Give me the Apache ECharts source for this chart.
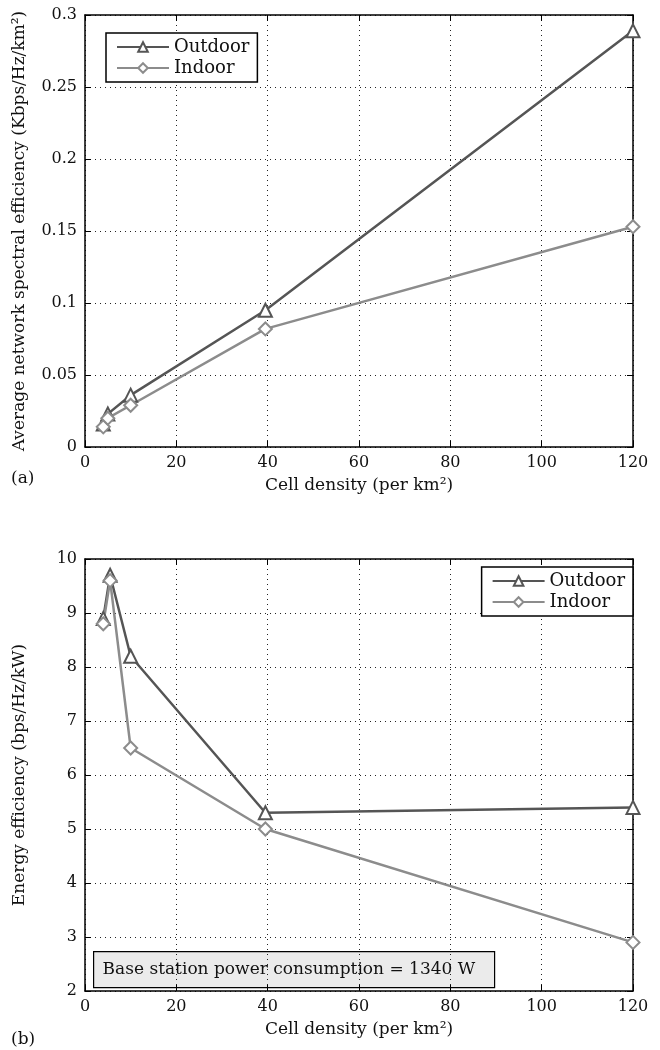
<!DOCTYPE html>
<html><head><meta charset="utf-8">
<script src="https://cdn.jsdelivr.net/npm/echarts@6/dist/echarts.min.js"></script>
<style>html,body{margin:0;padding:0;background:#fff}#c{width:660px;height:1050px}</style>
</head><body><div id="c"></div>
<script>
// Panel (a): average network spectral efficiency
const densityA = [4, 5, 10, 39.5, 120];
const outdoorA = [0.016, 0.023, 0.036, 0.095, 0.289];
const indoorA  = [0.014, 0.020, 0.029, 0.082, 0.153];
// Panel (b): energy efficiency
const densityB = [4, 5.5, 10, 39.5, 120];
const outdoorB = [8.9, 9.7, 8.2, 5.3, 5.4];
const indoorB  = [8.8, 9.6, 6.5, 5.0, 2.9];
const xTicks = [0, 20, 40, 60, 80, 100, 120];

const FONT = 'DejaVu Serif';
const DARK = '#555555', LIGHT = '#8c8c8c';
const pairs = (xs, ys) => xs.map((x, i) => [x, ys[i]]);

const chart = echarts.init(document.getElementById('c'), null, {renderer: 'canvas'});
const grids = [
  {left: 85, right: 27, top: 15, height: 432},
  {left: 85, right: 27, top: 559, height: 432}
];
const splitLine = {show: true, lineStyle: {color: '#222', width: 1, type: [1, 4]}};
function xAxes(gi) {
  return [
    {type: 'value', gridIndex: gi, min: xTicks[0], max: xTicks[xTicks.length - 1], interval: 20, position: 'bottom',
     name: 'Cell density (per km²)', nameLocation: 'middle', nameGap: 30,
     nameTextStyle: {fontFamily: FONT, fontSize: 17, color: '#111'},
     axisLine: {show: true, onZero: false, lineStyle: {color: '#000', width: 1.5}},
     axisTick: {inside: true, length: 6, lineStyle: {color: '#000'}},
     axisLabel: {fontFamily: FONT, fontSize: 16, color: '#111', margin: 8},
     splitLine: splitLine},
    {type: 'value', gridIndex: gi, min: xTicks[0], max: xTicks[xTicks.length - 1], interval: 20, position: 'top',
     axisLine: {show: true, onZero: false, lineStyle: {color: '#000', width: 1.5}},
     axisTick: {inside: true, length: 6, lineStyle: {color: '#000'}},
     axisLabel: {show: false}, splitLine: {show: false}}
  ];
}
function yAxes(gi, min, max, interval, name, fmt) {
  return [
    {type: 'value', gridIndex: gi, min: min, max: max, interval: interval, position: 'left',
     name: name, nameLocation: 'middle', nameGap: 57,
     nameTextStyle: {fontFamily: FONT, fontSize: 17, color: '#111'},
     axisLine: {show: true, onZero: false, lineStyle: {color: '#000', width: 1.5}},
     axisTick: {inside: true, length: 6, lineStyle: {color: '#000'}},
     axisLabel: {fontFamily: FONT, fontSize: 16, color: '#111', margin: 8, formatter: fmt},
     splitLine: splitLine},
    {type: 'value', gridIndex: gi, min: min, max: max, interval: interval, position: 'right',
     axisLine: {show: true, onZero: false, lineStyle: {color: '#000', width: 1.5}},
     axisTick: {inside: true, length: 6, lineStyle: {color: '#000'}},
     axisLabel: {show: false}, splitLine: {show: false}}
  ];
}
function series(name, data, gi, color, symbol) {
  return {
    name: name, type: 'line', xAxisIndex: gi * 2, yAxisIndex: gi * 2, data: data,
    symbol: symbol, symbolSize: 13, showAllSymbol: true,
    lineStyle: {color: color, width: 2.5},
    itemStyle: {color: color, borderColor: color, borderWidth: 2.5},
    animation: false
  };
}
const legendCommon = {
  orient: 'vertical', backgroundColor: '#fff', borderColor: '#000', borderWidth: 1.5,
  borderRadius: 0, padding: [5, 8, 5, 10], itemWidth: 52, itemHeight: 12, itemGap: 3,
  textStyle: {fontFamily: FONT, fontSize: 18, color: '#111'}
};
chart.setOption({
  animation: false,
  grid: grids,
  xAxis: [...xAxes(0), ...xAxes(1)],
  yAxis: [
    ...yAxes(0, 0, 0.3, 0.05, 'Average network spectral efficiency (Kbps/Hz/km²)', v => String(+v.toFixed(2))),
    ...yAxes(1, 2, 10, 1, 'Energy efficiency (bps/Hz/kW)', v => String(v))
  ],
  legend: [
    Object.assign({left: 106, top: 33, data: [{name: 'Outdoor'}, {name: 'Indoor'}]}, legendCommon),
    Object.assign({right: 27, top: 567, data: [{name: 'Outdoor '}, {name: 'Indoor '}],
      formatter: n => n.trim()}, legendCommon)
  ],
  series: [
    series('Outdoor', pairs(densityA, outdoorA), 0, DARK, 'emptyTriangle'),
    series('Indoor', pairs(densityA, indoorA), 0, LIGHT, 'emptyDiamond'),
    series('Outdoor ', pairs(densityB, outdoorB), 1, DARK, 'emptyTriangle'),
    series('Indoor ', pairs(densityB, indoorB), 1, LIGHT, 'emptyDiamond')
  ],
  graphic: [
    {type: 'text', left: 11, top: 470, style: {text: '(a)', font: '17px ' + FONT, fill: '#111'}},
    {type: 'text', left: 11, top: 1031, style: {text: '(b)', font: '17px ' + FONT, fill: '#111'}},
    {type: 'group', left: 93, top: 951, children: [
      {type: 'rect', shape: {x: 0, y: 0, width: 401, height: 36},
       style: {fill: '#ebebeb', stroke: '#000', lineWidth: 1.2}},
      {type: 'text', x: 9, y: 18, style: {text: 'Base station power consumption = 1340 W',
        font: '17px ' + FONT, fill: '#111', textVerticalAlign: 'middle'}}
    ]}
  ]
});
</script></body></html>
